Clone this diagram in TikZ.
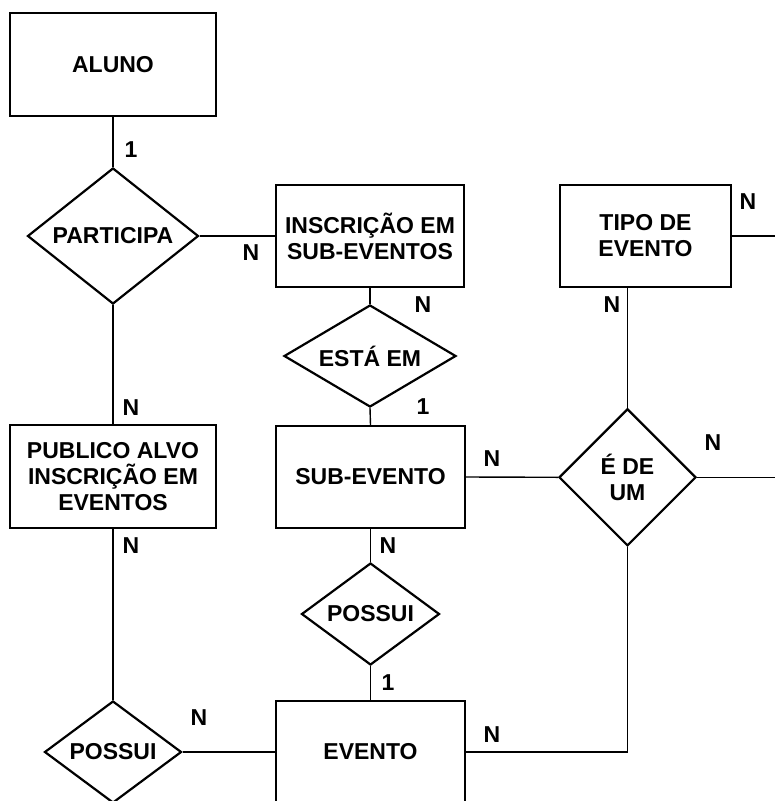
\documentclass[tikz,border=0pt]{standalone}
\usepackage{fontspec}
\setmainfont{Liberation Sans}
\usetikzlibrary{shapes.geometric}
\begin{document}
\begin{tikzpicture}[x=1pt,y=-1pt,
  every node/.style={font=\fontsize{23}{26}\selectfont\bfseries},
  entity/.style={draw,line width=2.2pt,rectangle,inner sep=0pt,align=center},
  relation/.style={draw,line width=2.2pt,diamond,inner sep=0pt,align=center},
  link/.style={line width=1.4pt},
  card/.style={inner sep=0pt,anchor=center}]
\useasboundingbox (0,0) rectangle (775,801);
% entities
\node[entity,minimum width=206pt,minimum height=103pt] (aluno) at (113,64.7) {ALUNO};
\node[entity,minimum width=188pt,minimum height=102pt] (insc) at (370,236) {INSCRIÇÃO EM\\SUB-EVENTOS};
\node[entity,minimum width=171pt,minimum height=102pt] (tipo) at (645.5,236) {TIPO DE\\EVENTO};
\node[entity,minimum width=206pt,minimum height=103pt] (publico) at (113,476.5) {PUBLICO ALVO\\INSCRIÇÃO EM\\EVENTOS};
\node[entity,minimum width=189pt,minimum height=102pt] (sub) at (370.5,477) {SUB-EVENTO};
\node[entity,minimum width=189pt,minimum height=102pt] (evento) at (370.5,752) {EVENTO};
% relations
\node[relation,minimum width=171pt,minimum height=136pt,aspect=1.26] (part) at (113,236) {PARTICIPA};
\node[relation,minimum width=172pt,minimum height=102pt,aspect=1.69] (esta) at (370,356) {ESTÁ EM};
\node[relation,minimum width=137pt,minimum height=137pt,aspect=1] (edeum) at (627.5,477.3) {É DE\\UM};
\node[relation,minimum width=138pt,minimum height=102pt,aspect=1.35] (possuiA) at (370.5,614) {POSSUI};
\node[relation,minimum width=137pt,minimum height=102pt,aspect=1.35] (possuiB) at (113,752) {POSSUI};
% free ends
\coordinate (rtop) at (775,236);
\coordinate (rmid) at (775,477.3);
% connectors
\draw[link] (aluno.south) -- (part.north);
\draw[link] (part.east) -- (insc.west);
\draw[link] (part.south) -- (publico.north);
\draw[link] (insc.south) -- (esta.north);
\draw[link] (esta.south) -- (sub.north);
\draw[link] (tipo.east) -- (rtop);
\draw[link] (tipo.south -| edeum.north) -- (edeum.north);
\draw[link] (sub.east) -- (edeum.west);
\draw[link] (edeum.east) -- (rmid);
\draw[link] (sub.south) -- (possuiA.north);
\draw[link] (possuiA.south) -- (evento.north);
\draw[link] (edeum.south) |- (evento.east);
\draw[link] (publico.south) -- (possuiB.north);
\draw[link] (possuiB.east) -- (evento.west);
% cardinalities
\node[card] (c1) at (131,150) {1};
\node[card] (c2) at (251,253) {N};
\node[card] (c3) at (748,202) {N};
\node[card] (c4) at (423,305) {N};
\node[card] (c5) at (612,305) {N};
\node[card] (c6) at (423,407) {1};
\node[card] (c7) at (492,459) {N};
\node[card] (c8) at (713,443) {N};
\node[card] (c9) at (131,408) {N};
\node[card] (c10) at (131,546) {N};
\node[card] (c11) at (388,546) {N};
\node[card] (c12) at (388,683) {1};
\node[card] (c13) at (199,718) {N};
\node[card] (c14) at (492,735) {N};
\end{tikzpicture}
\end{document}
